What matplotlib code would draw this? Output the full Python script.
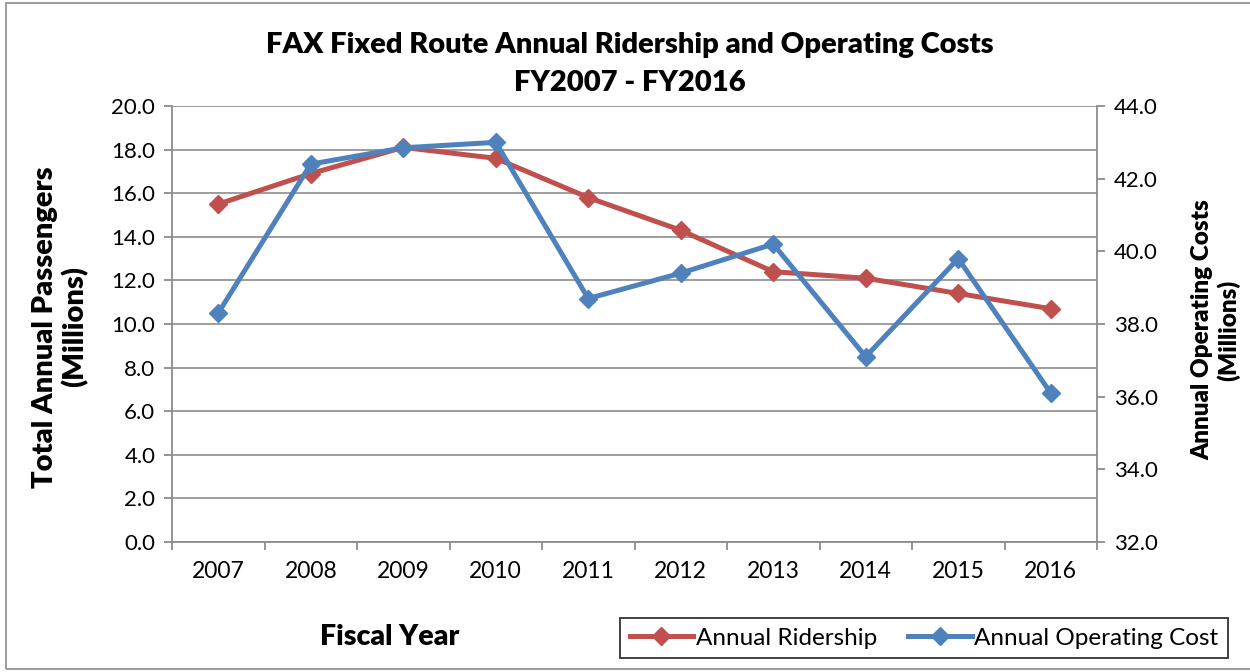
import matplotlib
matplotlib.use("Agg")
import matplotlib.pyplot as plt
from matplotlib.patches import Rectangle

years = ["2007", "2008", "2009", "2010", "2011", "2012", "2013", "2014", "2015", "2016"]
ridership = [15.5, 16.9, 18.1, 17.6, 15.8, 14.3, 12.4, 12.1, 11.4, 10.7]
op_cost = [38.3, 42.4, 42.85, 43.0, 38.7, 39.4, 40.2, 37.1, 39.8, 36.1]

plt.rcParams['font.family'] = ['Lato', 'DejaVu Sans']

RED = "#C0504D"
BLUE = "#4F81BD"
GRID = "#8C8C8C"

fig = plt.figure(figsize=(12.5, 6.72), dpi=100)
fig.patches.append(Rectangle((6/1250, 1-669/672), 1250, 666/672, transform=fig.transFigure,
                             fill=False, edgecolor="#8C8C8C", linewidth=1.2))

ax = fig.add_axes([172/1250, 1-542/672, 925/1250, 436/672])
ax2 = ax.twinx()

x = list(range(len(years)))
ax.plot(x, ridership, color=RED, lw=3.6, marker="D", ms=9.5, label="Annual Ridership", zorder=3)
ax2.plot(x, op_cost, color=BLUE, lw=3.6, marker="D", ms=9.5, label="Annual Operating Cost", zorder=3)

ax.set_xlim(-0.5, len(years) - 0.5)
ax.set_ylim(0, 20)
ax.set_yticks([i * 2 for i in range(11)])
ax.set_yticklabels([f"{i*2:.1f}" for i in range(11)])
ax2.set_ylim(32, 44)
ax2.set_yticks([32, 34, 36, 38, 40, 42, 44])
ax2.set_yticklabels([f"{v:.1f}" for v in [32, 34, 36, 38, 40, 42, 44]])

ax.set_xticks(x)
ax.set_xticklabels(years)
ax.set_xticks([i - 0.5 for i in range(len(years) + 1)], minor=True)
ax.tick_params(axis="x", which="major", length=0, labelsize=16.5, pad=14)
ax.tick_params(axis="x", which="minor", length=6, color=GRID, width=1.3)
ax.tick_params(axis="y", length=6, color=GRID, width=1.3, labelsize=16, pad=6)
ax2.tick_params(axis="y", length=6, color=GRID, width=1.3, labelsize=16, pad=6)

ax.grid(axis="y", color=GRID, lw=1.2)
ax.set_axisbelow(True)
for a in (ax, ax2):
    a.spines["top"].set_visible(False)
    for s in ("left", "right", "bottom"):
        a.spines[s].set_color(GRID)
        a.spines[s].set_linewidth(1.3)
ax.spines["right"].set_visible(False)
ax2.spines["left"].set_visible(False)
ax2.spines["bottom"].set_visible(False)

fig.text(630/1250, 1-45/672, "FAX Fixed Route Annual Ridership and Operating Costs",
         ha="center", va="center", fontsize=21, fontweight="heavy")
fig.text(630/1250, 1-83/672, "FY2007 - FY2016",
         ha="center", va="center", fontsize=21, fontweight="heavy")

fig.text(60/1250, 1-327/672, "Total Annual Passengers\n(Millions)", rotation=90,
         ha="center", va="center", fontsize=21, fontweight="heavy", linespacing=1.15)
fig.text(1216/1250, 1-330/672, "Annual Operating Costs\n(Millions)", rotation=90,
         ha="center", va="center", fontsize=17.5, fontweight="heavy", linespacing=1.15)
fig.text(390/1250, 1-637/672, "Fiscal Year", ha="center", va="center",
         fontsize=20.5, fontweight="heavy")

h1, l1 = ax.get_legend_handles_labels()
h2, l2 = ax2.get_legend_handles_labels()
leg = fig.legend(h1 + h2, l1 + l2, loc="center", ncol=2,
                 bbox_to_anchor=(924/1250, 1-638/672), fontsize=17.5, frameon=True,
                 fancybox=False, edgecolor="black", handlelength=2.6, columnspacing=1.3,
                 handletextpad=0.1, borderpad=0.4)
leg.get_frame().set_linewidth(1.3)

fig.savefig("out.png", dpi=100)
